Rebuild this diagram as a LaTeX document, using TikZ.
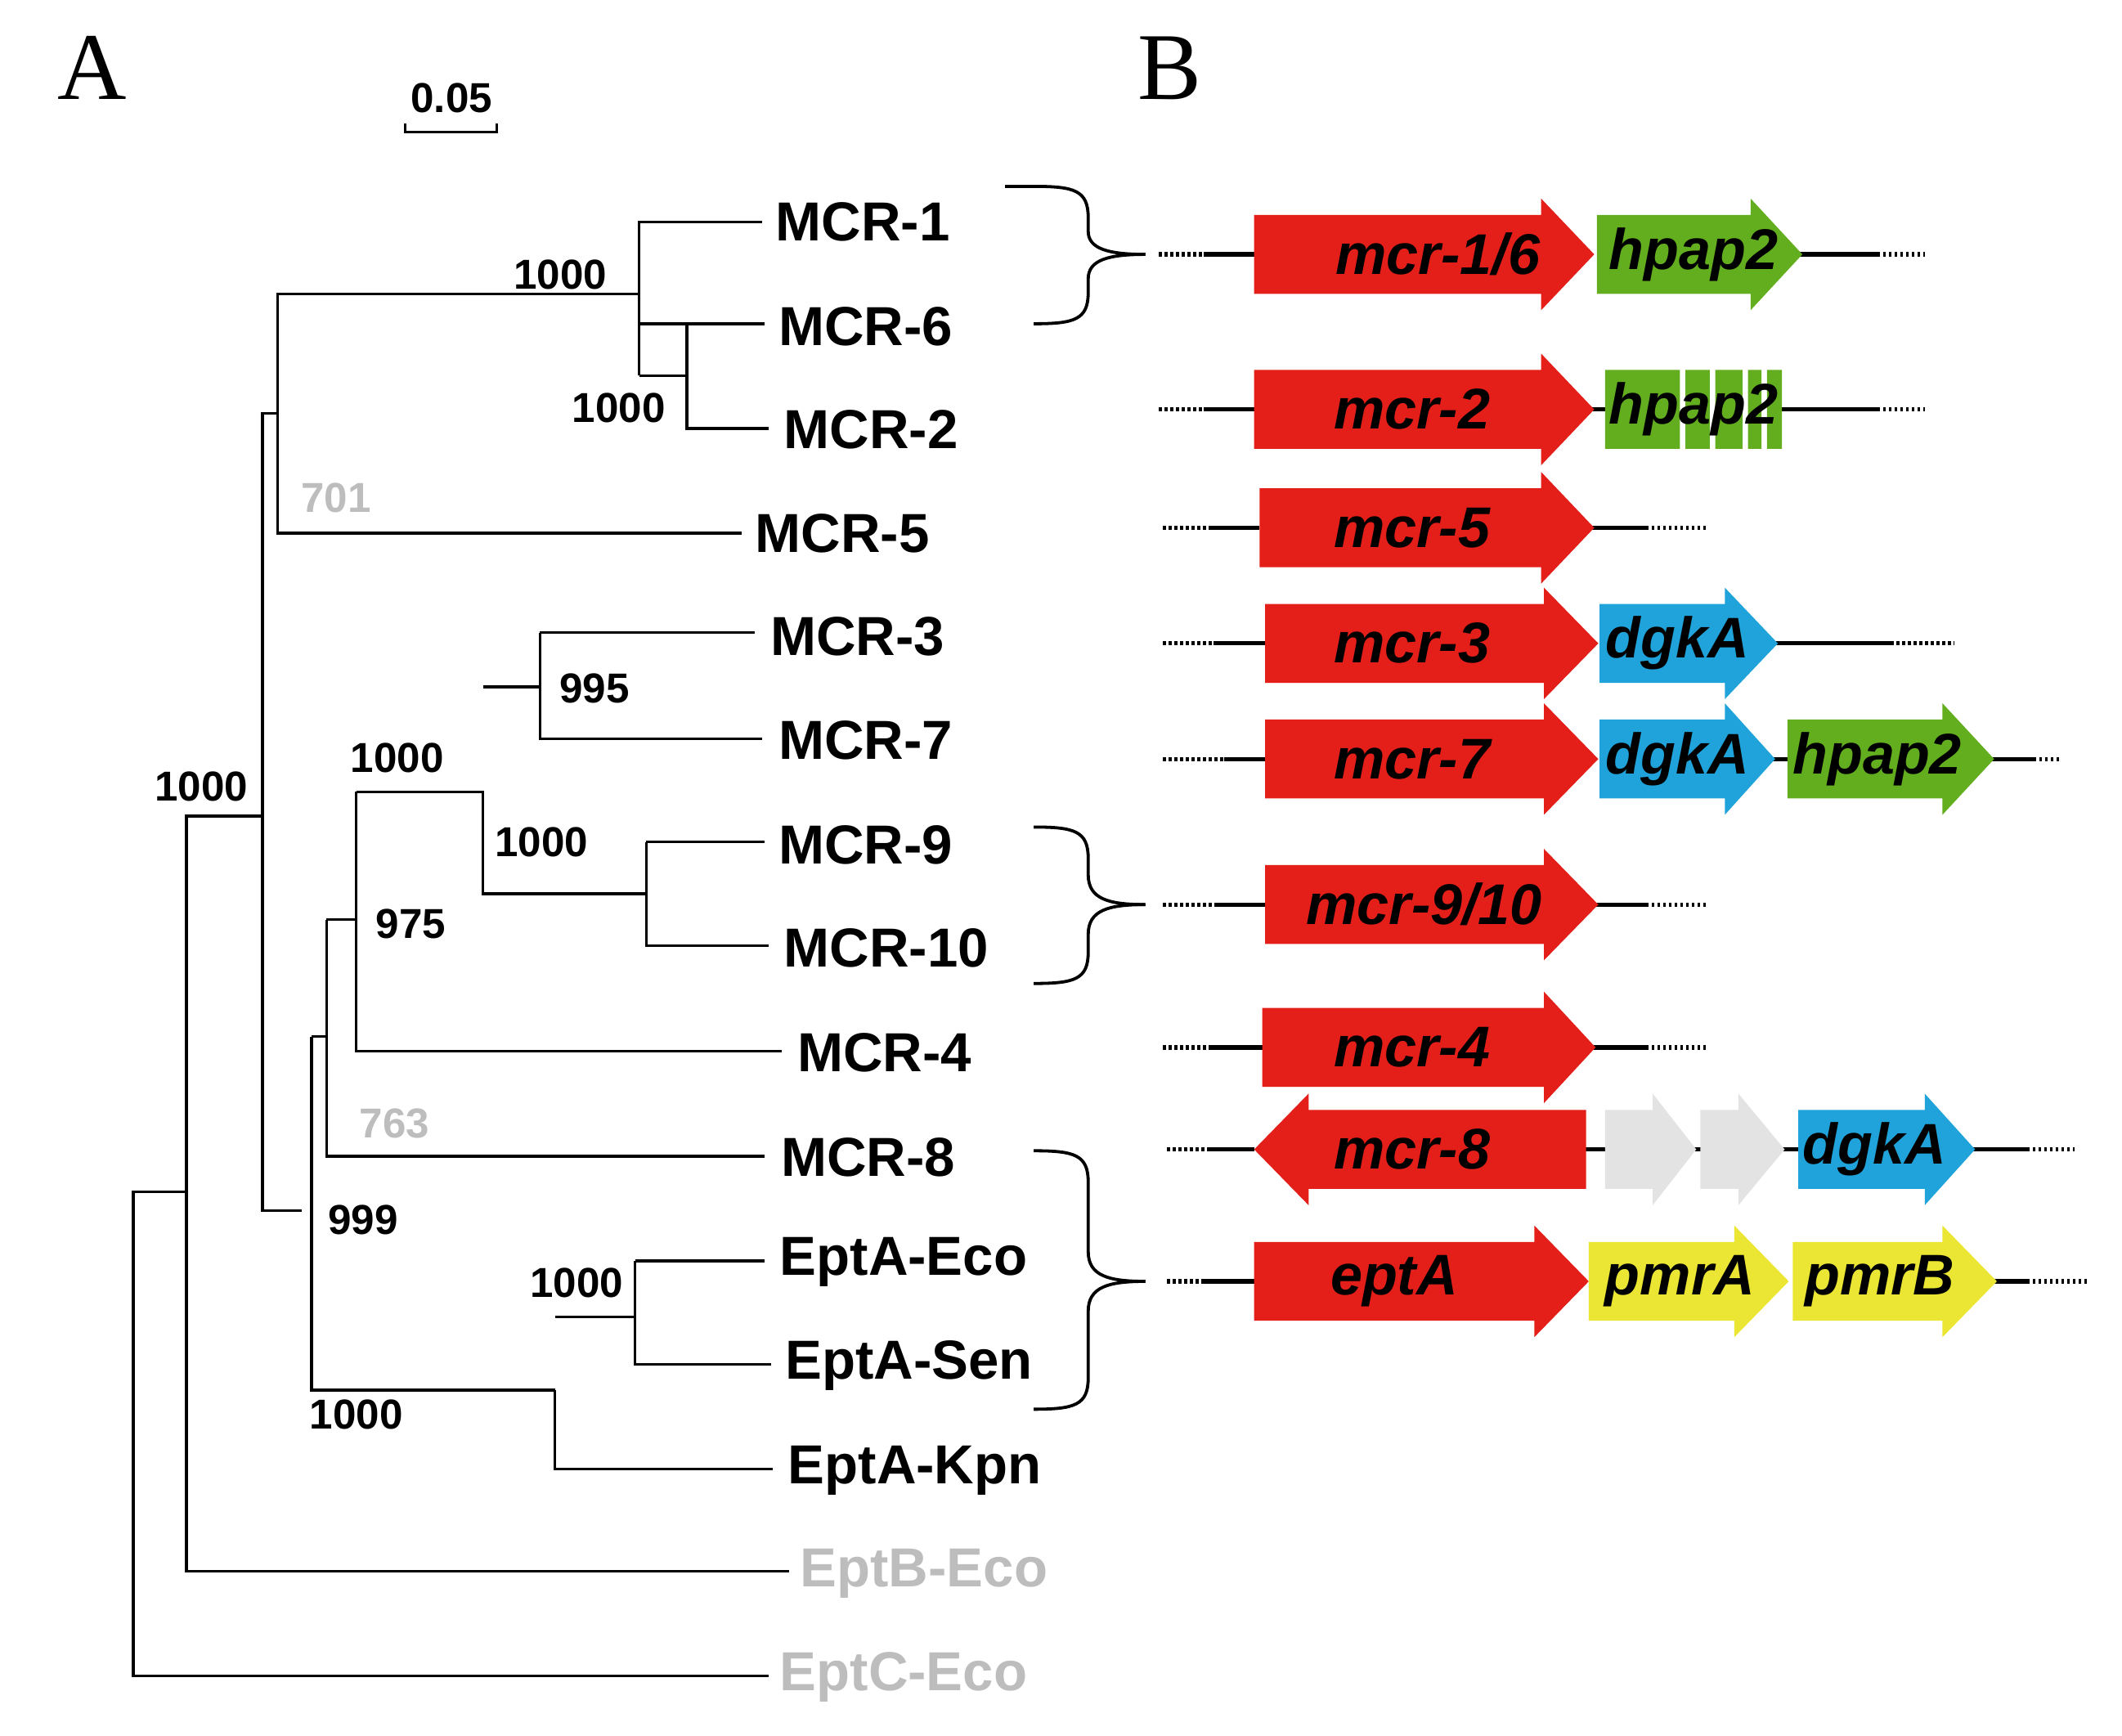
\documentclass[tikz,border=0pt]{standalone}
\usepackage{fontspec}
\setmainfont{Liberation Sans}
\newfontfamily\serifA{Liberation Serif}
\usetikzlibrary{decorations.pathreplacing}
\definecolor{gred}{HTML}{E41F19}
\definecolor{ggreen}{HTML}{63AE1F}
\definecolor{gblue}{HTML}{1FA3DA}
\definecolor{gyellow}{HTML}{EBE633}
\definecolor{ggray}{HTML}{E3E3E3}
\definecolor{ltext}{HTML}{BDBDBD}
\tikzset{
 br/.style={line width=1.1pt},
 leaf/.style={anchor=west,inner sep=0pt,font=\fontsize{23}{23}\selectfont\bfseries},
 boot/.style={inner sep=0pt,font=\fontsize{17.5}{17.5}\selectfont\bfseries},
 gtxt/.style={inner sep=0pt,font=\fontsize{24}{24}\selectfont\bfseries\itshape},
 sol/.style={line width=1.8pt},
 dot/.style={line width=1.8pt,dash pattern=on 1.2pt off 1.2pt},
 brace/.style={line width=1.3pt,decorate,decoration={brace,amplitude=12pt}}
}
% gene arrow: x1, base, tip, y, colour
\newcommand\garrow[5]{\fill[#5] (#1,#4-29)--(#2,#4-29)--(#2,#4-41)--(#3,#4)--(#2,#4+41)--(#2,#4+29)--(#1,#4+29)--cycle;}
\newcommand\lgarrow[5]{\fill[#5] (#1,#4-29)--(#2,#4-29)--(#2,#4-41)--(#3,#4)--(#2,#4+41)--(#2,#4+29)--(#1,#4+29)--cycle;}
\begin{document}
\begin{tikzpicture}[x=0.02cm,y=-0.02cm]
\useasboundingbox (0,0) rectangle (1560,1276);
\node[font=\serifA\fontsize{40}{40}\selectfont] (lA) at (68,50) {A};
\node[font=\serifA\fontsize{40}{40}\selectfont] (lB) at (860,50) {B};
\node[boot] (sc) at (332,72) {0.05};
\draw[br] (298,91)--(298,97)--(365,97)--(365,91);
% leaves
\node[leaf] (m1) at (570,163) {MCR-1};
\node[leaf] (m6) at (572,240) {MCR-6};
\node[leaf] (m2) at (576,316) {MCR-2};
\node[leaf] (m5) at (555,392) {MCR-5};
\node[leaf] (m3) at (566,468) {MCR-3};
\node[leaf] (m7) at (572,544) {MCR-7};
\node[leaf] (m9) at (572,621) {MCR-9};
\node[leaf] (m10) at (576,697) {MCR-10};
\node[leaf] (m4) at (586,774) {MCR-4};
\node[leaf] (m8) at (574,851) {MCR-8};
\node[leaf] (ee) at (573,928) {EptA-Eco};
\node[leaf] (es) at (577,1004) {EptA-Sen};
\node[leaf] (ek) at (579,1081) {EptA-Kpn};
\node[leaf,text=ltext] (be) at (588,1157) {EptB-Eco};
\node[leaf,text=ltext] (ce) at (573,1233) {EptC-Eco};
% tree
\draw[br] (m1.west)++(-10,0) -| (470,276) |- ([xshift=-10pt]m6.west|-0,238);
\draw[br] (470,163)--(560,163);
\draw[br] (505,238)--(562,238) (505,238)--(505,315)--(565,315) (470,276)--(505,276);
\draw[br] (470,216)--(204,216)--(204,392)--(545,392);
\draw[br] (204,304)--(193,304)--(193,890)--(222,890);
\draw[br] (193,600)--(137,600)--(137,1155)--(580,1155);
\draw[br] (137,876)--(98,876)--(98,1232)--(565,1232);
\draw[br] (229,762)--(229,1022)--(408,1022);
\draw[br] (229,762)--(240,762);
\draw[br] (240,676)--(240,850)--(562,850);
\draw[br] (240,676)--(262,676);
\draw[br] (262,582)--(262,773)--(575,773);
\draw[br] (262,582)--(355,582)--(355,657)--(475,657);
\draw[br] (355,505)--(397,505);
\draw[br] (397,465)--(555,465) (397,465)--(397,543)--(560,543);
\draw[br] (475,619)--(562,619) (475,619)--(475,695)--(565,695);
\draw[br] (408,1022)--(408,1080)--(568,1080) (408,968)--(467,968);
\draw[br] (467,927)--(562,927) (467,927)--(467,1003)--(567,1003);
% bootstrap
\node[boot] at (412,202) {1000};
\node[boot] at (455,300) {1000};
\node[boot,text=ltext] at (247,366) {701};
\node[boot] at (437,506) {995};
\node[boot] at (292,557) {1000};
\node[boot] at (398,619) {1000};
\node[boot] at (302,679) {975};
\node[boot,text=ltext] at (290,826) {763};
\node[boot] at (148,578) {1000};
\node[boot] at (267,897) {999};
\node[boot] at (424,943) {1000};
\node[boot] at (262,1040) {1000};
% braces
\draw[brace] (760,137) to[out=0,in=180] (760,137);
\draw[line width=1.3pt] (760,137) .. controls (790,137) and (800,140) .. (800,160) -- (800,170) .. controls (800,183) and (815,187) .. (842,187);
\draw[line width=1.3pt] (760,238) .. controls (790,238) and (800,235) .. (800,215) -- (800,205) .. controls (800,191) and (815,187) .. (842,187);
\draw[line width=1.3pt] (760,608) .. controls (790,608) and (800,611) .. (800,631) -- (800,643) .. controls (800,661) and (815,665) .. (842,665);
\draw[line width=1.3pt] (760,723) .. controls (790,723) and (800,720) .. (800,700) -- (800,687) .. controls (800,669) and (815,665) .. (842,665);
\draw[line width=1.3pt] (760,846) .. controls (790,846) and (800,849) .. (800,869) -- (800,920) .. controls (800,938) and (815,942) .. (842,942);
\draw[line width=1.3pt] (760,1036) .. controls (790,1036) and (800,1033) .. (800,1013) -- (800,964) .. controls (800,946) and (815,942) .. (842,942);
% row 1
\draw[dot] (852,187)--(885,187); \draw[sol] (885,187)--(922,187) (1320,187)--(1380,187); \draw[dot] (1380,187)--(1415,187);
\garrow{922}{1133}{1172}{187}{gred} \garrow{1174}{1287}{1325}{187}{ggreen}
\node[gtxt] (g1) at (1057,187) {mcr-1/6}; \node[gtxt] (g1b) at (1245,187) {hpap2};
% row 2
\draw[dot] (852,301)--(885,301); \draw[sol] (885,301)--(922,301) (1170,301)--(1182,301) (1305,301)--(1380,301); \draw[dot] (1380,301)--(1415,301);
\garrow{922}{1133}{1172}{301}{gred}
\fill[ggreen] (1180,272) rectangle (1235,330) (1239,272) rectangle (1257,330) (1261,272) rectangle (1281,330) (1285,272) rectangle (1295,330) (1299,272) rectangle (1310,330);
\node[gtxt] (g2) at (1038,301) {mcr-2}; \node[gtxt] (g2b) at (1245,301) {hpap2};
% row mcr-5
\draw[dot] (855,388)--(890,388); \draw[sol] (890,388)--(926,388) (1170,388)--(1210,388); \draw[dot] (1210,388)--(1255,388);
\garrow{926}{1133}{1172}{388}{gred}
\node[gtxt] (g5) at (1038,388) {mcr-5};
% mcr-3
\draw[dot] (855,473)--(892,473); \draw[sol] (892,473)--(930,473) (1300,473)--(1390,473); \draw[dot] (1390,473)--(1437,473);
\garrow{930}{1135}{1175}{473}{gred} \garrow{1176}{1268}{1307}{473}{gblue}
\node[gtxt] (g3) at (1038,473) {mcr-3}; \node[gtxt] (g3b) at (1233,473) {dgkA};
% mcr-7
\draw[dot] (855,558)--(900,558); \draw[sol] (900,558)--(930,558) (1300,558)--(1316,558) (1460,558)--(1495,558); \draw[dot] (1495,558)--(1515,558);
\garrow{930}{1135}{1175}{558}{gred} \garrow{1176}{1268}{1305}{558}{gblue} \garrow{1314}{1428}{1466}{558}{ggreen}
\node[gtxt] (g7) at (1038,558) {mcr-7}; \node[gtxt] (g7b) at (1233,558) {dgkA}; \node[gtxt] (g7c) at (1380,558) {hpap2};
% mcr-9/10
\draw[dot] (855,665)--(895,665); \draw[sol] (895,665)--(930,665) (1170,665)--(1210,665); \draw[dot] (1210,665)--(1255,665);
\garrow{930}{1135}{1175}{665}{gred}
\node[gtxt] (g9) at (1047,665) {mcr-9/10};
% mcr-4
\draw[dot] (855,770)--(890,770); \draw[sol] (890,770)--(928,770) (1170,770)--(1210,770); \draw[dot] (1210,770)--(1255,770);
\garrow{928}{1135}{1173}{770}{gred}
\node[gtxt] (g4) at (1038,770) {mcr-4};
% mcr-8
\draw[dot] (858,845)--(890,845); \draw[sol] (890,845)--(922,845) (1160,845)--(1325,845) (1450,845)--(1490,845); \draw[dot] (1490,845)--(1525,845);
\garrow{1166}{962}{922}{845}{gred}
\garrow{1180}{1215}{1247}{845}{ggray} \garrow{1250}{1278}{1312}{845}{ggray}
\garrow{1322}{1415}{1452}{845}{gblue}
\node[gtxt] (g8) at (1038,845) {mcr-8}; \node[gtxt] (g8b) at (1378,845) {dgkA};
% eptA
\draw[dot] (858,942)--(885,942); \draw[sol] (885,942)--(922,942) (1465,942)--(1490,942); \draw[dot] (1490,942)--(1535,942);
\garrow{922}{1128}{1168}{942}{gred} \garrow{1168}{1275}{1315}{942}{gyellow} \garrow{1318}{1428}{1468}{942}{gyellow}
\node[gtxt] (ge) at (1025,942) {eptA}; \node[gtxt] (geb) at (1235,942) {pmrA}; \node[gtxt] (gec) at (1382,942) {pmrB};
\end{tikzpicture}
\end{document}
